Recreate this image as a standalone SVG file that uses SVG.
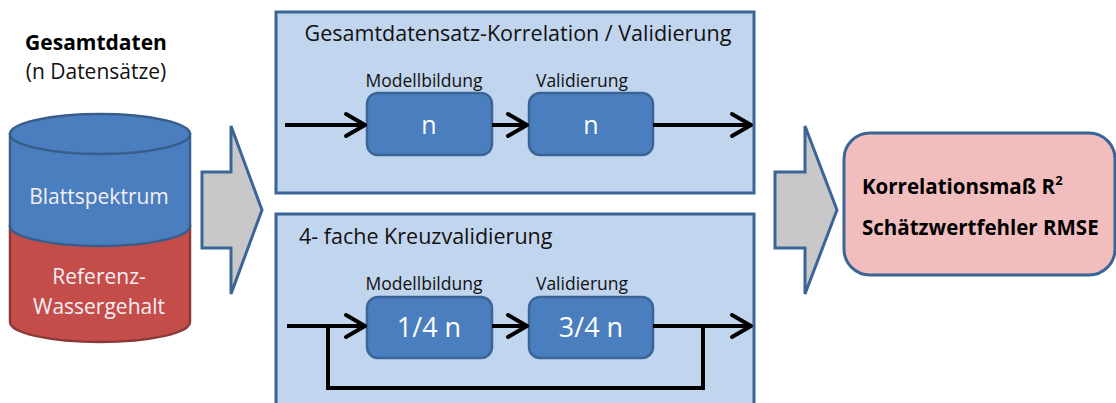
<svg xmlns="http://www.w3.org/2000/svg" width="1116" height="403" viewBox="0 0 1116 403">
  <defs>
    <marker id="chev" viewBox="0 0 26 28" refX="23" refY="14" markerWidth="26" markerHeight="28" markerUnits="userSpaceOnUse" orient="auto">
      <path d="M4,3 L23,14 L4,25" fill="none" stroke="#000" stroke-width="4" stroke-linecap="round" stroke-linejoin="round"/>
    </marker>
    <style>
      text { font-family: "Open Sans", "Liberation Sans", sans-serif; }
      .panel { fill: #c2d5ee; stroke: #3b6596; stroke-width: 3; }
      .step { fill: #4a7ebf; stroke: #3b6596; stroke-width: 2.5; }
      .bigarrow { fill: #c8c8c8; stroke: #3b6596; stroke-width: 3; stroke-linejoin: miter; }
      .flow { fill: none; stroke: #000; stroke-width: 4; }
      .title { font-size: 21.5px; fill: #111; }
      .lbl { font-size: 17.5px; fill: #111; }
      .val { font-size: 25px; fill: #fff; text-anchor: middle; }
      .frac { font-size: 27px; fill: #fff; text-anchor: middle; }
      .cyltxt { font-size: 21px; fill: #f3eef4; text-anchor: middle; }
      .res { font-size: 20.5px; font-weight: bold; fill: #000; }
    </style>
  </defs>

  <!-- data source: cylinder -->
  <g id="gesamtdaten">
    <text x="96" y="50" text-anchor="middle" font-size="21" font-weight="bold" fill="#000">Gesamtdaten</text>
    <text x="96" y="79" text-anchor="middle" font-size="21" fill="#111">(n Datensätze)</text>
    <path d="M10,226 L10,322 A90,20 0 0 0 190,322 L190,226 Z" fill="#c44d4a" stroke="#8c3a38" stroke-width="2.5"/>
    <path d="M10,134 L10,226 A90,20 0 0 0 190,226 L190,134 Z" fill="#4a7ebf" stroke="#385d8a" stroke-width="2.5"/>
    <ellipse cx="100" cy="134" rx="90" ry="20" fill="#4a7ebf" stroke="#385d8a" stroke-width="2.5"/>
    <text class="cyltxt" x="99" y="204">Blattspektrum</text>
    <text class="cyltxt" x="99" y="284">Referenz-</text>
    <text class="cyltxt" x="99" y="314">Wassergehalt</text>
  </g>

  <!-- block arrows -->
  <g id="pfeil1">
    <path class="bigarrow" d="M202,172 L231,172 L231,126 L262,210 L231,294 L231,248 L202,248 Z"/>
  </g>
  <g id="pfeil2">
    <path class="bigarrow" d="M775,172 L805,172 L805,126 L837,210 L805,294 L805,248 L775,248 Z"/>
  </g>

  <!-- panel: whole-dataset correlation -->
  <g id="gesamtkorrelation">
    <rect class="panel" x="276" y="12" width="478" height="181"/>
    <text class="title" x="518" y="41" text-anchor="middle">Gesamtdatensatz-Korrelation / Validierung</text>
    <text class="lbl" x="424" y="87" text-anchor="middle">Modellbildung</text>
    <text class="lbl" x="582" y="87" text-anchor="middle">Validierung</text>
  </g>
  <g id="modell1">
    <rect class="step" x="367" y="93" width="125" height="62" rx="11"/>
    <text class="val" x="429" y="134">n</text>
  </g>
  <g id="valid1">
    <rect class="step" x="529" y="93" width="124" height="62" rx="11"/>
    <text class="val" x="591" y="134">n</text>
  </g>

  <!-- panel: 4-fold cross validation -->
  <g id="kreuzvalidierung">
    <rect class="panel" x="276" y="214" width="478" height="200"/>
    <text class="title" x="299" y="244">4- fache Kreuzvalidierung</text>
    <text class="lbl" x="424" y="290" text-anchor="middle">Modellbildung</text>
    <text class="lbl" x="582" y="290" text-anchor="middle">Validierung</text>
  </g>
  <g id="modell2">
    <rect class="step" x="367" y="297" width="125" height="61" rx="11"/>
    <text class="frac" x="429" y="337">1/4 n</text>
  </g>
  <g id="valid2">
    <rect class="step" x="529" y="297" width="124" height="61" rx="11"/>
    <text class="frac" x="591" y="337">3/4 n</text>
  </g>

  <!-- result -->
  <g id="ergebnis">
    <rect x="844" y="133" width="271" height="142" rx="26" fill="#f2bdbd" stroke="#3b6596" stroke-width="3"/>
    <text class="res" x="862" y="194">Korrelationsmaß R<tspan font-size="13" dy="-9">2</tspan></text>
    <text class="res" x="862" y="235">Schätzwertfehler RMSE</text>
  </g>

  <!-- connectors -->
  <g id="connectors">
    <line class="flow" x1="285" y1="125" x2="365" y2="125" marker-end="url(#chev)"/>
    <line class="flow" x1="492" y1="125" x2="527" y2="125" marker-end="url(#chev)"/>
    <line class="flow" x1="653" y1="125" x2="751" y2="125" marker-end="url(#chev)"/>
    <line class="flow" x1="287" y1="326" x2="365" y2="326" marker-end="url(#chev)"/>
    <line class="flow" x1="492" y1="326" x2="527" y2="326" marker-end="url(#chev)"/>
    <line class="flow" x1="653" y1="326" x2="751" y2="326" marker-end="url(#chev)"/>
    <polyline class="flow" points="328,326 328,388 703,388 703,326"/>
  </g>
</svg>
